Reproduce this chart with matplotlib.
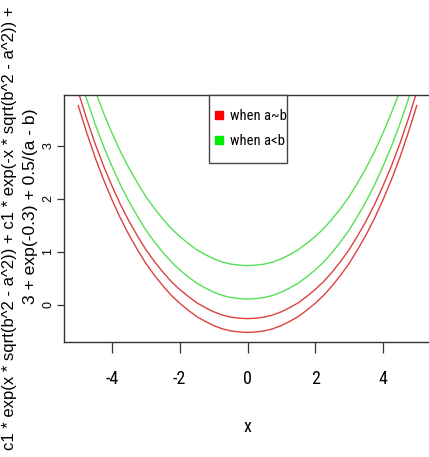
import matplotlib
matplotlib.use("Agg")
import matplotlib.pyplot as plt
from matplotlib.lines import Line2D
from matplotlib.patches import Rectangle

x_vals = [-5.0, -4.75, -4.5, -4.25, -4.0, -3.75, -3.5, -3.25, -3.0, -2.75, -2.5,
          -2.25, -2.0, -1.75, -1.5, -1.25, -1.0, -0.75, -0.5, -0.25, 0.0,
          0.25, 0.5, 0.75, 1.0, 1.25, 1.5, 1.75, 2.0, 2.25, 2.5,
          2.75, 3.0, 3.25, 3.5, 3.75, 4.0, 4.25, 4.5, 4.75, 5.0]

# two red curves (a ~ b)
red_low = [3.76, 3.25, 2.78, 2.36, 1.98, 1.63, 1.32, 1.04, 0.78, 0.56, 0.36,
           0.18, 0.03, -0.10, -0.22, -0.31, -0.39, -0.45, -0.49, -0.51, -0.52,
           -0.51, -0.49, -0.45, -0.39, -0.31, -0.22, -0.10, 0.03, 0.18, 0.36,
           0.56, 0.78, 1.04, 1.32, 1.63, 1.98, 2.36, 2.78, 3.25, 3.76]
red_high = [4.02, 3.51, 3.04, 2.62, 2.24, 1.89, 1.58, 1.30, 1.04, 0.82, 0.62,
            0.44, 0.29, 0.16, 0.04, -0.05, -0.13, -0.19, -0.23, -0.25, -0.26,
            -0.25, -0.23, -0.19, -0.13, -0.05, 0.04, 0.16, 0.29, 0.44, 0.62,
            0.82, 1.04, 1.30, 1.58, 1.89, 2.24, 2.62, 3.04, 3.51, 4.02]

# two green curves (a < b)
green_low = [4.39, 3.88, 3.41, 2.99, 2.61, 2.26, 1.95, 1.67, 1.41, 1.19, 0.99,
             0.81, 0.66, 0.53, 0.41, 0.32, 0.24, 0.18, 0.14, 0.12, 0.11,
             0.12, 0.14, 0.18, 0.24, 0.32, 0.41, 0.53, 0.66, 0.81, 0.99,
             1.19, 1.41, 1.67, 1.95, 2.26, 2.61, 2.99, 3.41, 3.88, 4.39]
green_high = [5.02, 4.51, 4.04, 3.62, 3.24, 2.89, 2.58, 2.30, 2.04, 1.82, 1.62,
              1.44, 1.29, 1.16, 1.04, 0.95, 0.87, 0.81, 0.77, 0.75, 0.74,
              0.75, 0.77, 0.81, 0.87, 0.95, 1.04, 1.16, 1.29, 1.44, 1.62,
              1.82, 2.04, 2.30, 2.58, 2.89, 3.24, 3.62, 4.04, 4.51, 5.02]

x_ticks = [-4, -2, 0, 2, 4]
y_ticks = [0, 1, 2, 3]
legend_labels = ["when a~b", "when a<b"]

ylab_1 = "c1 * exp(x * sqrt(b^2 - a^2)) + c1 * exp(-x * sqrt(b^2 - a^2)) +"
ylab_2 = "3 + exp(-0.3) + 0.5/(a - b)"

narrow = ["Roboto Condensed", "Liberation Sans Narrow", "Liberation Sans"]
regular = ["Liberation Sans", "DejaVu Sans"]

fig = plt.figure(figsize=(4.29, 4.57), dpi=100)
ax = fig.add_axes([64 / 429, 1 - 342 / 457, 367 / 429, 247 / 457])

red = "#dd4040"
green = "#55e055"
ax.plot(x_vals, red_low, color=red, lw=1.0)
ax.plot(x_vals, red_high, color=red, lw=1.0)
ax.plot(x_vals, green_low, color=green, lw=1.0)
ax.plot(x_vals, green_high, color=green, lw=1.0)

ax.set_xlim(-5.42, 5.42)
ax.set_ylim(-0.70, 3.96)

for s in ax.spines.values():
    s.set_color("#333333")
    s.set_linewidth(1.0)

ax.set_xticks(x_ticks)
ax.set_xticklabels([str(t) for t in x_ticks], family=narrow, fontsize=13,
                   fontstretch="condensed")
ax.tick_params(axis="x", length=8, width=0.9, pad=12, color="#333333")

ax.set_yticks(y_ticks)
ax.set_yticklabels([str(t) for t in y_ticks], family=regular, fontsize=9,
                   rotation=90, va="center")
ax.tick_params(axis="y", length=5, width=0.9, pad=2, color="#333333")

ax.set_xlabel("x", family=narrow, fontsize=13, labelpad=22, fontstretch="condensed")

# y label in two lines, like R's deparsed expression
fig.text(10 / 429, 0.5, ylab_1, rotation=90, ha="center", va="center",
         family=regular, fontsize=12)
fig.text(30 / 429, 1 - 206 / 457, ylab_2, rotation=90, ha="center", va="center",
         family=regular, fontsize=12.6)

# legend box (R style: more padding top/bottom than left/right)
ax.add_patch(Rectangle((0.395, 0.7247), 0.2125, 0.2753, transform=ax.transAxes,
                       facecolor="white", edgecolor="#444444", lw=1.0, zorder=4,
                       clip_on=False))
handles = [Line2D([], [], ls="none", marker="s", ms=6, mfc="#ff0000", mec="#ff0000"),
           Line2D([], [], ls="none", marker="s", ms=6, mfc="#00ee00", mec="#00ee00")]
leg = ax.legend(handles, legend_labels, loc="upper left", bbox_to_anchor=(0.411, 0.944),
                borderaxespad=0, frameon=False, borderpad=0,
                prop={"family": narrow, "size": 10.5, "stretch": "condensed"},
                handlelength=0.6, handletextpad=0.45, labelspacing=0.75)
leg.set_zorder(5)

fig.savefig("out.png", dpi=100)
